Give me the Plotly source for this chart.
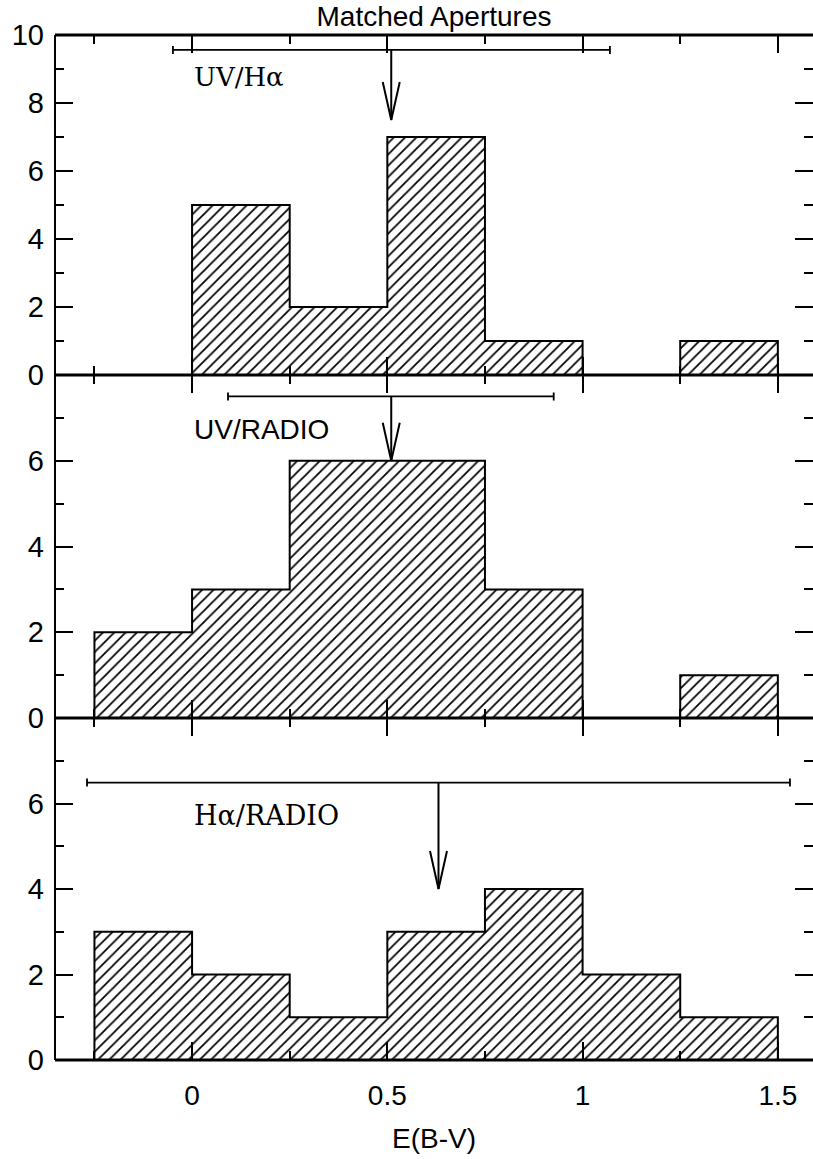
import plotly.graph_objects as go
from plotly.subplots import make_subplots

# Histogram bins in E(B-V)
bin_edges = [-0.25, 0.0, 0.25, 0.5, 0.75, 1.0, 1.25, 1.5]

# Number of regions per bin for each aperture pair
counts_uv_ha = [0, 5, 2, 7, 1, 0, 1]
counts_uv_radio = [2, 3, 6, 6, 3, 0, 1]
counts_ha_radio = [3, 2, 1, 3, 4, 2, 1]

# Mean value (arrow) and range bar for each panel
mean_vals = [0.51, 0.51, 0.631]
range_lo = [-0.049, 0.092, -0.269]
range_hi = [1.07, 0.926, 1.531]
range_y = [9.56, 7.5, 6.49]
arrow_tip_y = [7.5, 6.0, 4.0]

panel_labels = ["UV/H\u03b1", "UV/RADIO", "H\u03b1/RADIO"]
label_y = [8.76, 6.72, 5.72]
label_fonts = ["DejaVu Serif", "Liberation Sans", "DejaVu Serif"]
label_sizes = [26, 28, 27]

y_ranges = [[0, 10], [0, 8], [0, 8]]
y_tickvals = [[0, 2, 4, 6, 8, 10], [0, 2, 4, 6], [0, 2, 4, 6]]
x_range = [-0.351, 1.59]
x_tickvals = [0, 0.5, 1, 1.5]
x_ticktext = ["0", "0.5", "1", "1.5"]

W, H = 813, 1159
M_L, M_R, M_T, M_B = 55, 0, 35, 99
plot_w = W - M_L - M_R
plot_h = H - M_T - M_B
# row heights (top, middle, bottom) in pixels of plot height
row_px = [340, 343, 342]

fig = make_subplots(rows=3, cols=1, shared_xaxes=True, vertical_spacing=0)

FONT = "Liberation Sans"
all_counts = [counts_uv_ha, counts_uv_radio, counts_ha_radio]
centers = [(a + b) / 2 for a, b in zip(bin_edges[:-1], bin_edges[1:])]
widths = [b - a for a, b in zip(bin_edges[:-1], bin_edges[1:])]

x_ppu = plot_w / (x_range[1] - x_range[0])
head_half_w = 8.5 / x_ppu

for i, counts in enumerate(all_counts):
    row = i + 1
    y_ppu = row_px[i] / (y_ranges[i][1] - y_ranges[i][0])
    head_len = 38 / y_ppu

    # hatched histogram bars
    fig.add_trace(go.Bar(
        x=centers, y=counts, width=widths,
        marker=dict(color="white", line=dict(width=0),
                    pattern=dict(shape="/", fgcolor="black", bgcolor="white",
                                 size=8, solidity=0.22, fillmode="replace")),
        showlegend=False, hoverinfo="skip"), row=row, col=1)

    # step outline of the histogram
    sx = [bin_edges[0]] + bin_edges[:-1] + [bin_edges[-1], bin_edges[-1]]
    sy = [0] + counts + [counts[-1], 0]
    fig.add_trace(go.Scatter(
        x=sx, y=sy, mode="lines", line=dict(color="black", width=2, shape="hv"),
        showlegend=False, hoverinfo="skip"), row=row, col=1)

    # range bar with end caps
    m = mean_vals[i]
    fig.add_trace(go.Scatter(
        x=[m], y=[range_y[i]], mode="markers", marker=dict(size=0.1, color="black", opacity=0),
        error_x=dict(type="data", symmetric=False, array=[range_hi[i] - m],
                     arrayminus=[m - range_lo[i]], width=4, thickness=1.8, color="black"),
        showlegend=False, hoverinfo="skip"), row=row, col=1)

    # arrow shaft and open head
    fig.add_trace(go.Scatter(
        x=[m, m, None, m - head_half_w, m, m + head_half_w],
        y=[range_y[i], arrow_tip_y[i], None, arrow_tip_y[i] + head_len, arrow_tip_y[i],
           arrow_tip_y[i] + head_len],
        mode="lines", line=dict(color="black", width=2),
        showlegend=False, hoverinfo="skip"), row=row, col=1)

    fig.add_annotation(
        x=0.0, y=label_y[i], xref=f"x{'' if row == 1 else row}", yref=f"y{'' if row == 1 else row}",
        text=panel_labels[i], showarrow=False, xanchor="left", yanchor="middle",
        font=dict(family=label_fonts[i], size=label_sizes[i], color="black"))

# domains
b = row_px[2] / plot_h
mid = (row_px[2] + row_px[1]) / plot_h
domains = [[mid, 1.0], [b, mid], [0.0, b]]

for i in range(3):
    row = i + 1
    fig.update_yaxes(
        range=y_ranges[i], domain=domains[i], tickmode="array", tickvals=y_tickvals[i],
        ticks="inside", ticklen=18, tickwidth=2, tickcolor="black",
        showline=False, mirror="ticks", showgrid=False, zeroline=False,
        minor=dict(ticks="inside", ticklen=9, tickwidth=2, tickcolor="black",
                   tickmode="linear", tick0=0, dtick=1),
        tickfont=dict(family=FONT, size=29, color="black"), ticklabelstandoff=10,
        row=row, col=1)
    fig.update_xaxes(
        range=x_range, tickmode="array", tickvals=x_tickvals, ticktext=x_ticktext,
        ticks="inside", ticklen=18, tickwidth=2, tickcolor="black",
        showline=False, mirror="ticks", showgrid=False, zeroline=False,
        minor=dict(ticks="inside", ticklen=9, tickwidth=2, tickcolor="black",
                   tickmode="linear", tick0=0, dtick=0.25),
        tickfont=dict(family=FONT, size=28, color="black"),
        showticklabels=(row == 3), row=row, col=1)

fig.update_xaxes(ticklabelstandoff=16, title=dict(text="E(B-V)", standoff=18,
                 font=dict(family=FONT, size=28, color="black")), row=3, col=1)

# frame: left edge and the horizontal panel boundaries
fig.add_shape(type="line", xref="paper", yref="paper", x0=0, x1=0, y0=0, y1=1,
              line=dict(color="black", width=2))
for yb in [0.0, b, mid, 1.0]:
    fig.add_shape(type="line", xref="paper", yref="paper", x0=0, x1=1, y0=yb, y1=yb,
                  line=dict(color="black", width=3))

fig.update_layout(
    width=W, height=H, margin=dict(l=M_L, r=M_R, t=M_T, b=M_B),
    paper_bgcolor="white", plot_bgcolor="white", bargap=0,
    title=dict(text="Matched Apertures", x=0.5, xref="paper", xanchor="center",
               y=1 - 16 / H, yref="container", yanchor="middle",
               font=dict(family=FONT, size=28, color="black")),
    font=dict(family=FONT, color="black"),
)

fig.write_html("out.html")
